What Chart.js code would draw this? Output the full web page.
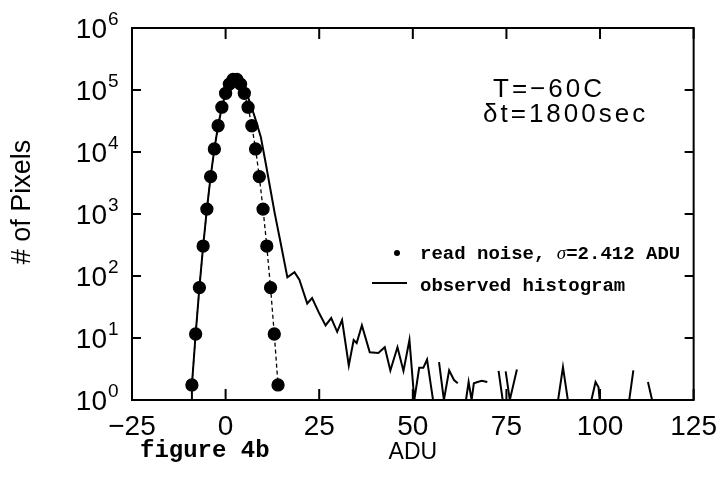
<!DOCTYPE html>
<html>
<head>
<meta charset="utf-8">
<script src="https://cdn.jsdelivr.net/npm/chart.js@4.4.1/dist/chart.umd.min.js"></script>
<style>
  html, body { margin: 0; padding: 0; background: #fff; }
  #wrap { width: 727px; height: 498px; }
</style>
</head>
<body>
<div id="wrap"><canvas id="c"></canvas></div>
<script>
// read noise model points (filled dots, dashed line)
const noiseADU = [-9, -8, -7, -6, -5, -4, -3, -2, -1, 0, 1, 2, 3, 4, 5, 6, 7, 8, 9, 10, 11, 12, 13, 14];
const noiseCounts = [1.75, 11.6, 65, 304, 1200, 4000, 11200, 26500, 52800, 88400, 124600, 148000,
  148000, 124600, 88400, 52800, 26500, 11200, 4000, 1200, 304, 65, 11.6, 1.75];

// observed histogram (solid line), null = no pixels in bin
const obsADU = [-9.2, -9, -8, -7, -6, -5, -4, -3, -2, -1, 0, 1, 2, 2.6, 4, 5.2, 7.8, 9.4, 10.7, 12.0, 13.1,
  14.7, 16.5, 18.4, 19.7, 21.8, 23.1, 25.0, 26.7, 28.2, 29.8, 31.1, 32.9, 34.2, 35.0, 36.4, 38.5,
  40.8, 42.5, 44.0, 45.9, 47.5, 49.1, 50.4, 51.7, 52.8, 53.8, 55.4,
  56.2, 57.0, 58.3, 59.7, 61.0, 62.0,
  63.0, 64.2, 64.9, 65.7, 66.3, 67.3, 68.4, 69.9,
  71.0, 72.9, 74.0,
  74.4, 74.8, 75.9, 77.8,
  80.0, 88.8, 90.1, 91.4,
  95.0, 97.7, 98.8, 99.6, 99.9,
  104.0, 107.8, 108.9,
  111.0, 112.8, 113.9];
const obsCounts = [1, 1.75, 11.6, 65, 304, 1200, 4000, 11200, 26500, 52800, 88400, 124600, 150000, 155000, 135000, 107000, 36500, 17500, 6650, 2440, 1040,
  340, 95, 115, 87, 36, 44, 25, 16, 21, 12.6, 19.5, 3.6, 9.3, 8.3, 16, 5.9,
  5.75, 7.1, 3.0, 7.1, 2.95, 9.3, 1, 3.3, 3.3, 4.5, 1,
  null, 4.1, 1, 3.0, 2.1, 1.86,
  null, 1, 1.95, 1, 1.86, 1.95, 2.04, 1.95,
  null, 2.95, 1,
  null, 2.9, 1, 3.1,
  null, 1, 3.4, 1,
  null, 1, 1.95, 1.6, 1,
  null, 1, 3.0,
  null, 1.95, 1];

// tick labels
const xTicks = [-25, 0, 25, 50, 75, 100, 125];
const yExponents = [0, 1, 2, 3, 4, 5, 6];

const noisePoints = noiseADU.map((v, i) => ({ x: v, y: noiseCounts[i] }));
const obsPoints = obsADU.map((v, i) => ({ x: v, y: obsCounts[i] }));

function line(ctx, x1, y1, x2, y2) {
  ctx.beginPath();
  ctx.moveTo(x1, y1);
  ctx.lineTo(x2, y2);
  ctx.stroke();
}

// frame, inward ticks, y labels with exponents and the figure texts
const paperPlugin = {
  id: 'paper',
  afterDraw(chart) {
    const { ctx, chartArea: a, scales: { x, y } } = chart;
    ctx.save();
    ctx.strokeStyle = '#000';
    ctx.fillStyle = '#000';
    ctx.lineWidth = 2;
    ctx.strokeRect(a.left, a.top, a.right - a.left, a.bottom - a.top);

    x.ticks.forEach(t => {
      const px = x.getPixelForValue(t.value);
      line(ctx, px, a.bottom, px, a.bottom - 11);
      line(ctx, px, a.top, px, a.top + 11);
    });
    y.ticks.forEach(t => {
      const py = y.getPixelForValue(t.value);
      line(ctx, a.left, py, a.left + 9, py);
      line(ctx, a.right, py, a.right - 9, py);
    });

    // y tick labels 10^n
    y.ticks.forEach(t => {
      const py = y.getPixelForValue(t.value);
      const e = Math.round(Math.log10(t.value));
      ctx.font = '28px "Liberation Sans"';
      ctx.textAlign = 'right';
      ctx.textBaseline = 'alphabetic';
      ctx.fillText('10', 107, py + 10);
      ctx.font = '19px "Liberation Sans"';
      ctx.textAlign = 'left';
      ctx.fillText(String(e), 108, py - 3);
    });

    // y axis title
    ctx.save();
    ctx.translate(23, 202);
    ctx.rotate(-Math.PI / 2);
    ctx.font = '27px "Liberation Sans"';
    ctx.textAlign = 'center';
    ctx.textBaseline = 'middle';
    ctx.fillText('# of Pixels', 0, 0);
    ctx.restore();

    // conditions
    ctx.textAlign = 'left';
    ctx.textBaseline = 'alphabetic';
    ctx.font = '26px "Liberation Sans"';
    if ('letterSpacing' in ctx) ctx.letterSpacing = '3px';
    ctx.fillText('T=\u221260C', 493, 97);
    ctx.fillText('\u03b4t=1800sec', 483, 122);
    if ('letterSpacing' in ctx) ctx.letterSpacing = '0px';

    // legend
    ctx.beginPath();
    ctx.arc(397, 253, 3, 0, Math.PI * 2);
    ctx.fill();
    ctx.font = 'bold 19px "Liberation Mono"';
    ctx.fillText('read noise, ', 420, 259);
    let w = ctx.measureText('read noise, ').width;
    ctx.font = 'italic 19px "Liberation Serif"';
    ctx.fillText('\u03c3', 420 + w, 259);
    w += ctx.measureText('\u03c3').width;
    ctx.font = 'bold 19px "Liberation Mono"';
    ctx.fillText('=2.412 ADU', 420 + w, 259);
    ctx.lineWidth = 2;
    line(ctx, 372, 283, 407, 283);
    ctx.fillText('observed histogram', 420, 291);

    // caption
    ctx.font = 'bold 24px "Liberation Mono"';
    ctx.fillText('figure 4b', 140, 457);
    ctx.restore();
  }
};

Chart.defaults.color = '#000';

new Chart(document.getElementById('c'), {
  type: 'scatter',
  data: {
    datasets: [
      {
        label: 'read noise',
        data: noisePoints,
        showLine: true,
        borderColor: '#000',
        borderWidth: 1.3,
        borderDash: [4, 3],
        pointRadius: 6,
        pointBackgroundColor: '#000',
        pointBorderColor: '#000',
        order: 0
      },
      {
        label: 'observed histogram',
        data: obsPoints,
        showLine: true,
        spanGaps: false,
        borderColor: '#000',
        borderWidth: 2,
        pointRadius: 0,
        tension: 0,
        order: 1
      }
    ]
  },
  options: {
    responsive: true,
    maintainAspectRatio: false,
    animation: false,
    layout: { padding: { left: 0, top: 28, right: 28, bottom: 0 } },
    plugins: { legend: { display: false }, tooltip: { enabled: false } },
    scales: {
      x: {
        type: 'linear',
        min: -25,
        max: 125,
        afterBuildTicks: s => { s.ticks = xTicks.map(v => ({ value: v })); },
        afterFit: s => { s.height = 98; },
        grid: { display: false, drawTicks: false },
        border: { display: false },
        ticks: {
          padding: 10,
          font: { family: 'Liberation Sans', size: 28 },
          callback: v => (v < 0 ? '\u2212' + Math.abs(v) : String(v))
        },
        title: {
          display: true,
          text: 'ADU',
          font: { family: 'Liberation Sans', size: 23 },
          padding: { top: 0, bottom: 32 }
        }
      },
      y: {
        type: 'logarithmic',
        min: 1,
        max: 1e6,
        afterBuildTicks: s => { s.ticks = yExponents.map(e => ({ value: Math.pow(10, e) })); },
        afterFit: s => { s.width = 132; },
        grid: { display: false, drawTicks: false },
        border: { display: false },
        ticks: { display: false }
      }
    }
  },
  plugins: [paperPlugin]
});
</script>
</body>
</html>
